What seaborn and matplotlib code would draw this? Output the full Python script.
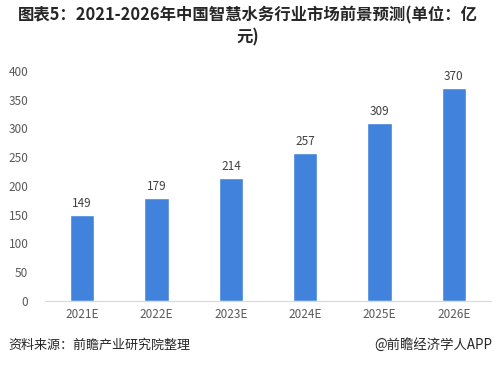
import matplotlib
matplotlib.use('Agg')
import matplotlib.pyplot as plt
import seaborn as sns
import pandas as pd

#%% Data
years = ['2021E', '2022E', '2023E', '2024E', '2025E', '2026E']
values = [149, 179, 214, 257, 309, 370]
yticks = [0, 50, 100, 150, 200, 250, 300, 350, 400]

df = pd.DataFrame({'Year': years, 'Value': values})

#%% Plot
sns.set_style('white')
plt.rcParams['font.family'] = ['Noto Sans CJK SC', 'DejaVu Sans']

fig = plt.figure(figsize=(4.95, 3.66), dpi=100)
ax = fig.add_axes([0.091, 0.178, 0.901, 0.628])

sns.barplot(x='Year', y='Value', data=df, color='#4183dc', width=0.33,
            saturation=1, ax=ax)

for i, v in enumerate(values):
    ax.text(i, v + 9, str(v), ha='center', va='bottom', fontsize=8.5, color='#404040')

ax.set_ylim(0, 400)
ax.set_yticks(yticks)
ax.set_xlim(-0.5, len(years) - 0.5)
ax.tick_params(axis='both', length=0, labelsize=8.5, colors='#595959')
ax.tick_params(axis='y', pad=12)
ax.tick_params(axis='x', pad=5)
ax.set_xlabel('')
ax.set_ylabel('')
for s in ['top', 'right', 'left']:
    ax.spines[s].set_visible(False)
ax.spines['bottom'].set_color('#d9d9d9')

fig.text(0.5, 0.958, '图表5：2021-2026年中国智慧水务行业市场前景预测(单位：亿', ha='center',
         va='center', fontsize=11.8, fontweight='bold', color='#262626')
fig.text(0.5, 0.898, '元)', ha='center', va='center', fontsize=11.8,
         fontweight='bold', color='#262626')
fig.text(0.016, 0.057, '资料来源：前瞻产业研究院整理', ha='left', va='center',
         fontsize=9.4, color='#262626')
fig.text(0.994, 0.057, '@前瞻经济学人APP', ha='right', va='center',
         fontsize=9.6, color='#262626')

fig.savefig('out.png', dpi=100)
